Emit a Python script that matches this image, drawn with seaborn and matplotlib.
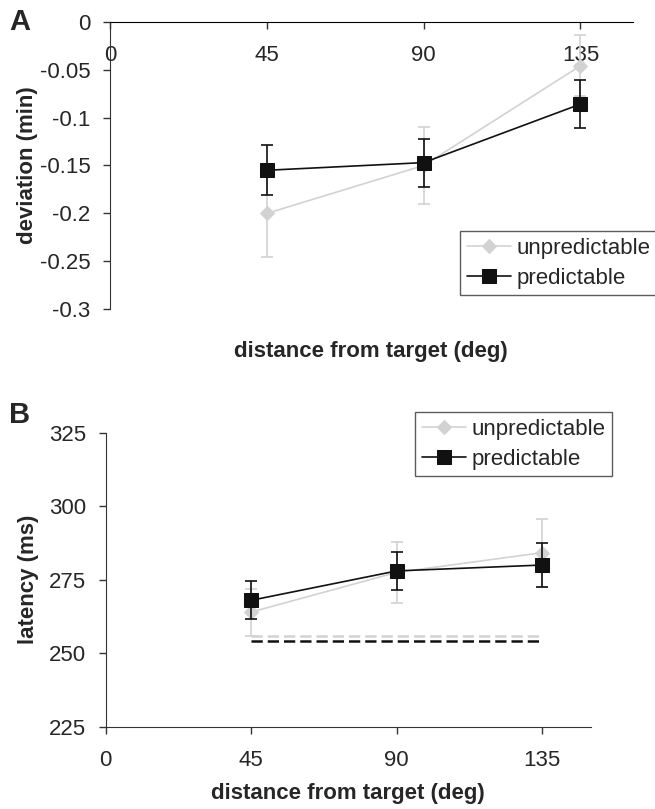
import matplotlib
matplotlib.use("Agg")
from matplotlib import pyplot as plt
import pandas as pd
import seaborn as sns

# afstand fra target (deg)
distance = [45, 90, 135]
conditions = ["unpredictable", "predictable"]

# panel A - deviation (min)
dev_unpred = [-0.200, -0.150, -0.046]
dev_unpred_err = [0.045, 0.040, 0.032]
dev_pred = [-0.155, -0.147, -0.086]
dev_pred_err = [0.026, 0.025, 0.025]

# panel B - latency (ms)
lat_unpred = [264.0, 277.5, 284.2]
lat_unpred_err = [8.0, 10.3, 11.6]
lat_pred = [268.0, 278.0, 280.0]
lat_pred_err = [6.5, 6.5, 7.4]
lat_baseline = [256.0, 254.0]  # stiplede linjer, unpredictable / predictable

x_ticks = [0, 45, 90, 135]
dev_ticks = [0, -0.05, -0.1, -0.15, -0.2, -0.25, -0.3]
dev_tick_labels = ["0", "-0.05", "-0.1", "-0.15", "-0.2", "-0.25", "-0.3"]
lat_ticks = [225, 250, 275, 300, 325]

sns.set_style("ticks")
plt.rcParams['font.family'] = ['Liberation Sans', 'DejaVu Sans']

GRAY = '#d2d2d2'
BLACK = '#111111'
SPINE = '#333333'
FS = 16
styles = {
    "unpredictable": dict(color=GRAY, marker='D', ms=7.5, zorder=2),
    "predictable": dict(color=BLACK, marker='s', ms=9.5, zorder=3),
}

df_a = pd.DataFrame({
    'distance': distance * 2,
    'value': dev_unpred + dev_pred,
    'err': dev_unpred_err + dev_pred_err,
    'condition': [conditions[0]] * 3 + [conditions[1]] * 3,
})
df_b = pd.DataFrame({
    'distance': distance * 2,
    'value': lat_unpred + lat_pred,
    'err': lat_unpred_err + lat_pred_err,
    'condition': [conditions[0]] * 3 + [conditions[1]] * 3,
})

fig = plt.figure(figsize=(6.55, 8.09), dpi=100)
ax_a = fig.add_axes([0.1679, 0.6177, 0.966 - 0.1679, 0.9732 - 0.6177])
ax_b = fig.add_axes([0.1614, 0.1017, 0.9018 - 0.1614, 0.4651 - 0.1017])


def draw_panel(ax, df):
    for cond in conditions:
        sub = df[df['condition'] == cond]
        st = styles[cond]
        ax.errorbar(sub['distance'], sub['value'], yerr=sub['err'], fmt='none',
                    ecolor=st['color'], elinewidth=1.2, capsize=4.5, capthick=1.2,
                    zorder=st['zorder'])
        sns.lineplot(data=sub, x='distance', y='value', ax=ax, color=st['color'],
                     marker=st['marker'], markersize=st['ms'], markeredgecolor=st['color'],
                     linewidth=1.2, label=cond, errorbar=None, zorder=st['zorder'])


legend_kw = dict(loc='upper left', fontsize=FS, frameon=True, fancybox=False,
                 edgecolor='#333333', borderpad=0.3, handlelength=2.0,
                 handletextpad=0.25, labelspacing=0.4, borderaxespad=0)

# ---- panel A
draw_panel(ax_a, df_a)
ax_a.set_xlim(0, 150)
ax_a.set_ylim(-0.3, 0)
ax_a.set_xticks(x_ticks)
ax_a.set_yticks(dev_ticks)
ax_a.set_yticklabels(dev_tick_labels)
ax_a.spines['top'].set_visible(False)
ax_a.spines['right'].set_visible(False)
ax_a.spines['bottom'].set_position(('data', 0))
ax_a.spines['bottom'].set_color('black')
ax_a.spines['left'].set_color(SPINE)
ax_a.set_xlabel('distance from target (deg)', fontsize=FS, fontweight='bold')
ax_a.xaxis.set_label_coords(0.5, -0.11)
ax_a.set_ylabel('deviation (min)', fontsize=FS, fontweight='bold')
ax_a.yaxis.set_label_coords(-0.137, 0.5)
ax_a.legend(bbox_to_anchor=(0.67, 0.272), **legend_kw)

# ---- panel B
draw_panel(ax_b, df_b)
for base, cond in zip(lat_baseline, conditions):
    sns.lineplot(x=[distance[0], distance[-1]], y=[base, base], ax=ax_b,
                 color=styles[cond]['color'], linewidth=1.8, dashes=(4.5, 2),
                 zorder=1, legend=False)
ax_b.set_xlim(0, 150)
ax_b.set_ylim(225, 325)
ax_b.set_xticks(x_ticks)
ax_b.set_yticks(lat_ticks)
ax_b.spines['top'].set_visible(False)
ax_b.spines['right'].set_visible(False)
ax_b.spines['bottom'].set_color(SPINE)
ax_b.spines['left'].set_color(SPINE)
ax_b.set_xlabel('distance from target (deg)', fontsize=FS, fontweight='bold')
ax_b.xaxis.set_label_coords(0.5, -0.19)
ax_b.set_ylabel('latency (ms)', fontsize=FS, fontweight='bold')
ax_b.yaxis.set_label_coords(-0.137, 0.5)
handles, labels = ax_b.get_legend_handles_labels()
ax_b.legend(handles[:2], labels[:2], bbox_to_anchor=(0.638, 1.07), **legend_kw)

for ax in (ax_a, ax_b):
    ax.tick_params(axis='both', labelsize=FS, length=5, width=1, color=SPINE)
    ax.tick_params(axis='x', pad=12)
    ax.tick_params(axis='y', pad=9)
    ax.get_legend().get_frame().set_linewidth(1.0)

fig.text(9 / 655, 1 - 22 / 809, 'A', fontsize=21, fontweight='bold', va='center', ha='left')
fig.text(9 / 655, 1 - 415 / 809, 'B', fontsize=21, fontweight='bold', va='center', ha='left')

fig.savefig('out.png', dpi=100)
